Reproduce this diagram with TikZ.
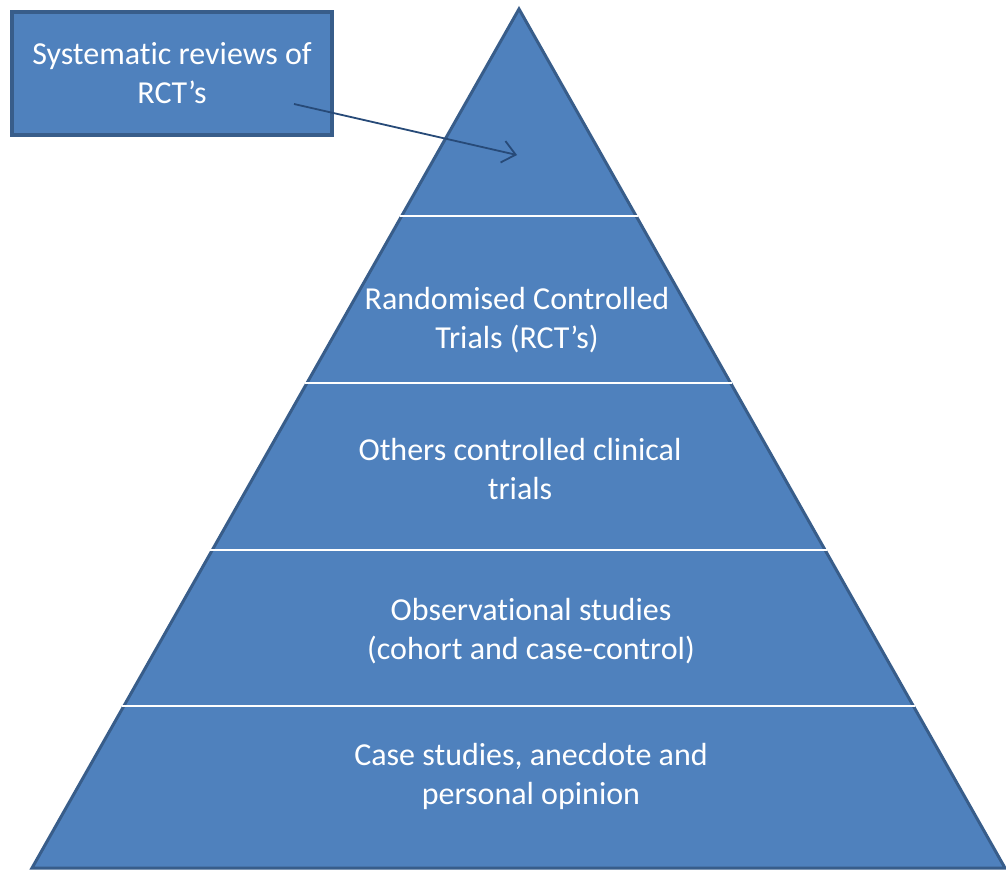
\documentclass[tikz,border=0pt]{standalone}
\usepackage{fontspec}
\setmainfont{Carlito}[Ligatures=NoCommon]
\usetikzlibrary{arrows.meta,calc}
\definecolor{tierfill}{HTML}{4F81BD}
\definecolor{tierline}{HTML}{385D8A}
\definecolor{pointer}{HTML}{274A78}
\tikzset{
  tiertext/.style={text=white, align=center, font=\fontsize{32}{39}\selectfont, inner sep=0pt},
  divider/.style={white, line width=2.6pt},
  callout/.style={draw=tierline, fill=tierfill, line width=4pt, minimum width=320pt,
    minimum height=123pt, inner sep=0pt},
  pointerline/.style={pointer, line width=1.8pt, -{Straight Barb[length=13pt,width=22pt]}}
}
\begin{document}
\begin{tikzpicture}[x=1pt,y=-1pt]
  \useasboundingbox (0,0) rectangle (1006,870);
  \fill[white] (0,0) rectangle (1006,870);

  % pyramid outline
  \coordinate (apex) at (519,9);
  \coordinate (bl) at (32,868);
  \coordinate (br) at (1005,868);
  \filldraw[fill=tierfill, draw=tierline, line width=3pt, line join=miter]
    (apex) -- (br) -- (bl) -- cycle;

  % tier separators
  \foreach \t/\n in {0.241/a, 0.4354/b, 0.6298/c, 0.8114/d}{
    \coordinate (l\n) at ($(apex)!\t!(bl)+(-1.8,0)$);
    \coordinate (r\n) at ($(apex)!\t!(br)+(1.8,0)$);
    \draw[divider] (l\n) -- (r\n);
  }

  % tier labels
  \node[tiertext] (rct) at (517,320) {Randomised Controlled\\Trials (RCT’s)};
  \node[tiertext] (other) at (520,469) {Others controlled clinical\\trials};
  \node[tiertext] (obs) at (531,631) {Observational studies\\(cohort and case-control)};
  \node[tiertext] (case) at (531,776) {Case studies, anecdote and\\personal opinion};

  % callout box with pointer into the top tier
  \node[callout, tiertext] (sys) at (172,73.5) {Systematic reviews of\\RCT’s};
  \coordinate (ptrstart) at (294,104);
  \coordinate (ptrtip) at (517,155);
  \draw[pointerline] (ptrstart) -- (ptrtip);
\end{tikzpicture}
\end{document}
